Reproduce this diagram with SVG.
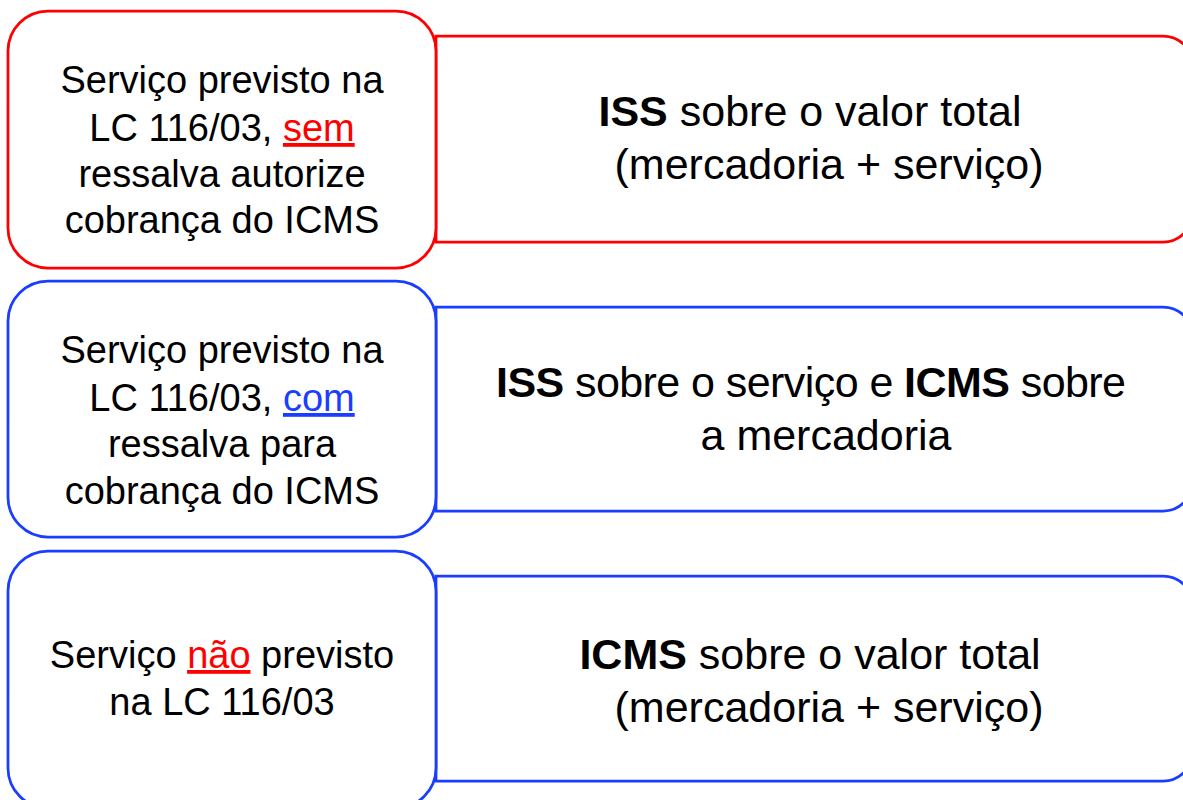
<svg xmlns="http://www.w3.org/2000/svg" width="1183" height="800" viewBox="0 0 1183 800">
  <style>
    .box { fill: #FFFFFF; stroke-width: 2.75; }
    .red { stroke: #FF0000; }
    .blue { stroke: #1A3DFF; }
    .lt { font-family: "Liberation Sans", Arial, sans-serif; font-size: 38px; fill: #000000; text-anchor: middle; }
    .rt { font-family: "Liberation Sans", Arial, sans-serif; font-size: 43px; fill: #000000; text-anchor: middle; }
    .b { font-weight: bold; }
    .hr { fill: #FF0000; text-decoration: underline; }
    .hb { fill: #1A3DFF; text-decoration: underline; }
  </style>
  <rect width="1183" height="800" fill="#FFFFFF"/>
  <g id="connectors"/>

  <g id="result-1">
    <path class="box red" d="M436,36 H1163 A30,30 0 0 1 1193,66 V212 A30,30 0 0 1 1163,242 H436 Z"/>
    <text class="rt" x="810" y="126"><tspan class="b">ISS</tspan> sobre o valor total</text>
    <text class="rt" x="829" y="179">(mercadoria + serviço)</text>
  </g>
  <g id="condition-1">
    <rect class="box red" x="8" y="11" width="428" height="257" rx="40" ry="40"/>
    <text class="lt" x="222" y="93">Serviço previsto na</text>
    <text class="lt" x="222" y="141">LC 116/03, <tspan class="hr">sem</tspan></text>
    <text class="lt" x="222" y="187">ressalva autorize</text>
    <text class="lt" x="222" y="233">cobrança do ICMS</text>
  </g>

  <g id="result-2">
    <path class="box blue" d="M436,307 H1163 A30,30 0 0 1 1193,337 V481 A30,30 0 0 1 1163,511 H436 Z"/>
    <text class="rt" x="811" y="397" textLength="630" lengthAdjust="spacing"><tspan class="b">ISS</tspan> sobre o serviço e <tspan class="b">ICMS</tspan> sobre</text>
    <text class="rt" x="826" y="450">a mercadoria</text>
  </g>
  <g id="condition-2">
    <rect class="box blue" x="8" y="281" width="428" height="256" rx="40" ry="40"/>
    <text class="lt" x="222" y="363">Serviço previsto na</text>
    <text class="lt" x="222" y="411">LC 116/03, <tspan class="hb">com</tspan></text>
    <text class="lt" x="222" y="457">ressalva para</text>
    <text class="lt" x="222" y="504">cobrança do ICMS</text>
  </g>

  <g id="result-3">
    <path class="box blue" d="M436,576 H1163 A30,30 0 0 1 1193,606 V751 A30,30 0 0 1 1163,781 H436 Z"/>
    <text class="rt" x="810" y="669"><tspan class="b">ICMS</tspan> sobre o valor total</text>
    <text class="rt" x="829" y="722">(mercadoria + serviço)</text>
  </g>
  <g id="condition-3">
    <rect class="box blue" x="8" y="551" width="428" height="257" rx="40" ry="40"/>
    <text class="lt" x="222" y="668">Serviço <tspan class="hr">não</tspan> previsto</text>
    <text class="lt" x="222" y="715">na LC 116/03</text>
  </g>
</svg>
